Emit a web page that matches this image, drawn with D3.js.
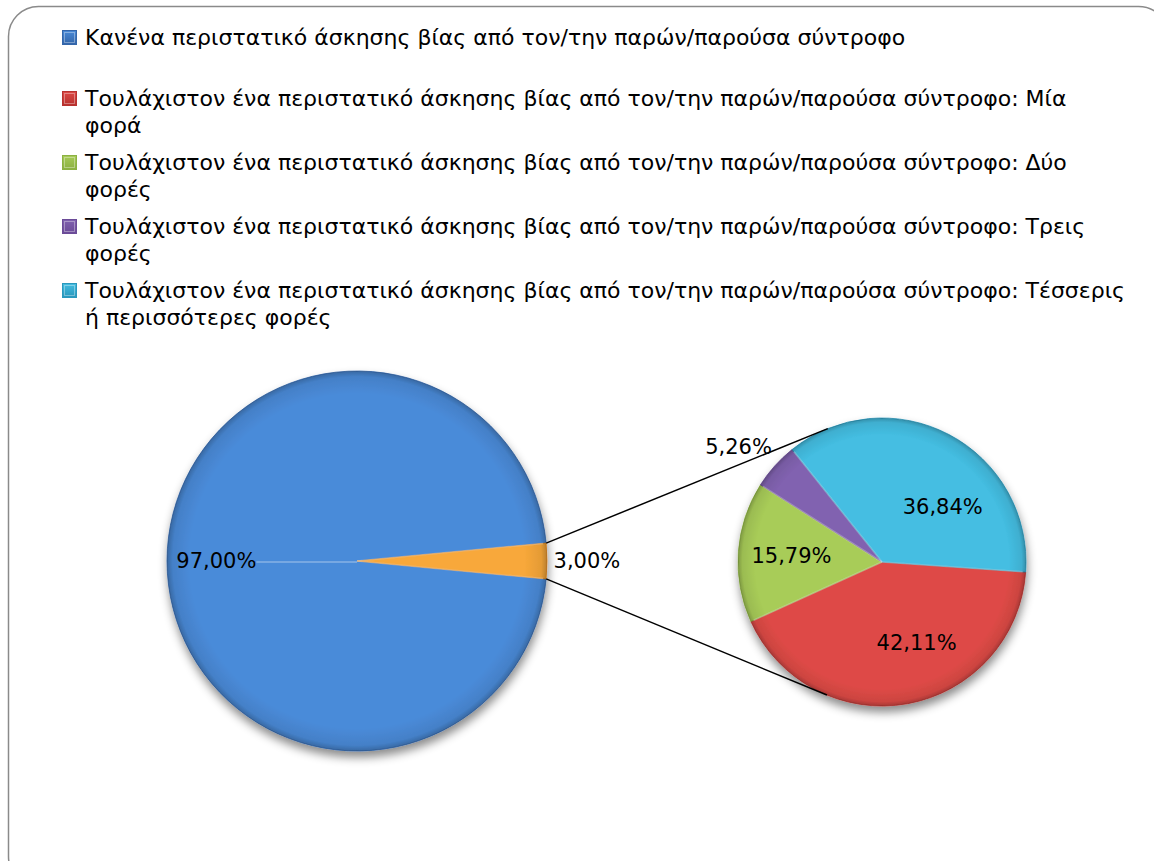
<!DOCTYPE html>
<html>
<head>
<meta charset="utf-8">
<script src="https://cdn.jsdelivr.net/npm/d3@7"></script>
<style>
  html, body { margin: 0; padding: 0; background: #fff; }
  svg { display: block; }
  text { font-family: "DejaVu Sans", "Open Sans", sans-serif; fill: #000; }
</style>
</head>
<body>
<svg id="chart" width="1154" height="861"></svg>
<script>
// ---------- DATA ----------
const mainCategories = [
  "Κανένα περιστατικό άσκησης βίας από τον/την παρών/παρούσα σύντροφο",
  "Τουλάχιστον ένα περιστατικό άσκησης βίας από τον/την παρών/παρούσα σύντροφο"
];
const mainValues = [97.00, 3.00];
const mainLabels = ["97,00%", "3,00%"];

const subCategories = [
  "Τουλάχιστον ένα περιστατικό άσκησης βίας από τον/την παρών/παρούσα σύντροφο: Μία φορά",
  "Τουλάχιστον ένα περιστατικό άσκησης βίας από τον/την παρών/παρούσα σύντροφο: Δύο φορές",
  "Τουλάχιστον ένα περιστατικό άσκησης βίας από τον/την παρών/παρούσα σύντροφο: Τρεις φορές",
  "Τουλάχιστον ένα περιστατικό άσκησης βίας από τον/την παρών/παρούσα σύντροφο: Τέσσερις ή περισσότερες φορές"
];
const subValues = [42.11, 15.79, 5.26, 36.84];
const subLabels = ["42,11%", "15,79%", "5,26%", "36,84%"];

const legendLabels = [mainCategories[0]].concat(subCategories);
// number of trailing words that wrap onto a second legend line
const legendWrapWords = [0, 1, 1, 1, 3];

// ---------- STYLE ----------
const mainColors = [["#4a8bd9", "#3466aa"], ["#f8a83a", "#e2861c"]];
const subColors = [["#de4a46", "#b8322f"], ["#a8cc58", "#8cb142"], ["#8162b0", "#6b4b98"], ["#44bee2", "#2a98bd"]];
const legendColors = [mainColors[0]].concat(subColors);
const fsLegend = 22;
const fsLabel = 21;

const svg = d3.select("#chart");
const defs = svg.append("defs");

// frame
svg.append("rect")
  .attr("x", 8.5).attr("y", 6.5).attr("width", 1160).attr("height", 880)
  .attr("rx", 30).attr("ry", 30)
  .attr("fill", "#fff").attr("stroke", "#8a8a8a").attr("stroke-width", 1.5);

// shadow filter
const f = defs.append("filter").attr("id", "shadow")
  .attr("x", "-20%").attr("y", "-20%").attr("width", "140%").attr("height", "140%");
f.append("feDropShadow").attr("dx", 1).attr("dy", 6).attr("stdDeviation", 5)
  .attr("flood-color", "#000").attr("flood-opacity", 0.45);

function makeGrad(id, c, y0, y1) {
  const g = defs.append("linearGradient").attr("id", id)
    .attr("gradientUnits", "userSpaceOnUse")
    .attr("x1", 0).attr("x2", 0).attr("y1", y0).attr("y2", y1);
  g.append("stop").attr("offset", "0%").attr("stop-color", c[0]);
  g.append("stop").attr("offset", "100%").attr("stop-color", c[1]);
}

// ---------- LAYOUT ----------
const mainC = { x: 357, y: 561, r: 190 };
const subC = { x: 882, y: 562, r: 144 };
const deg = Math.PI / 180;

// main pie: small slice centred on the right (90deg)
const mainHalf = (mainValues[1] / d3.sum(mainValues)) * Math.PI;
const mainPie = d3.pie().sort(null).value(d => d)
  .startAngle(Math.PI / 2 + mainHalf).endAngle(Math.PI / 2 + mainHalf + 2 * Math.PI);
const mainArcs = mainPie(mainValues);
const mainArc = d3.arc().innerRadius(0).outerRadius(mainC.r);

const subStart = 94 * deg;
const subPie = d3.pie().sort(null).value(d => d)
  .startAngle(subStart).endAngle(subStart + 2 * Math.PI);
const subArcs = subPie(subValues);
const subArc = d3.arc().innerRadius(0).outerRadius(subC.r);

mainColors.forEach((c, i) => makeGrad("mg" + i, c, mainC.y - mainC.r, mainC.y + mainC.r));
subColors.forEach((c, i) => makeGrad("sg" + i, c, subC.y - subC.r, subC.y + subC.r));

// rim gradient (bevel look)
const rg = defs.append("radialGradient").attr("id", "rim")
  .attr("cx", "50%").attr("cy", "50%").attr("r", "50%");
rg.append("stop").attr("offset", "88%").attr("stop-color", "#000").attr("stop-opacity", 0);
rg.append("stop").attr("offset", "97%").attr("stop-color", "#000").attr("stop-opacity", 0.08);
rg.append("stop").attr("offset", "100%").attr("stop-color", "#000").attr("stop-opacity", 0.25);

function drawPie(arcs, arcGen, c, gradPrefix, colors) {
  const g = svg.append("g").attr("filter", "url(#shadow)");
  g.selectAll("path").data(arcs).join("path")
    .attr("d", arcGen)
    .attr("transform", `translate(${c.x},${c.y})`)
    .attr("fill", (d, i) => `url(#${gradPrefix}${i})`)
    .attr("stroke", (d, i) => colors[i][1]).attr("stroke-width", 0.8);
  g.append("circle").attr("cx", c.x).attr("cy", c.y).attr("r", c.r).attr("fill", "url(#rim)");
  g.selectAll("line.ridge").data(arcs).join("line")
    .attr("class", "ridge")
    .attr("x1", c.x).attr("y1", c.y)
    .attr("x2", d => c.x + Math.sin(d.startAngle) * (c.r - 3))
    .attr("y2", d => c.y - Math.cos(d.startAngle) * (c.r - 3))
    .attr("stroke", "#fff").attr("stroke-opacity", 0.3).attr("stroke-width", 1.5);
  return g;
}

// ---------- PIES ----------
const gMain = drawPie(mainArcs, mainArc, mainC, "mg", mainColors);
// bevel seam seen on the large slice (opposite the small slice)
gMain.append("line")
  .attr("x1", mainC.x).attr("y1", mainC.y + 1)
  .attr("x2", mainC.x - mainC.r * 0.53).attr("y2", mainC.y + 1)
  .attr("stroke", "#fff").attr("stroke-opacity", 0.25).attr("stroke-width", 2);
drawPie(subArcs, subArc, subC, "sg", subColors);

// ---------- CONNECTOR LINES (tangents) ----------
const small = mainArcs[1];
[small.startAngle, small.endAngle].forEach((a, k) => {
  const px = mainC.x + Math.sin(a) * mainC.r;
  const py = mainC.y - Math.cos(a) * mainC.r;
  const dx = px - subC.x, dy = py - subC.y;
  const d = Math.hypot(dx, dy);
  const base = Math.atan2(dy, dx);
  const off = Math.acos(subC.r / d);
  const t = k === 0 ? base + off : base - off;
  svg.append("line")
    .attr("x1", px).attr("y1", py)
    .attr("x2", subC.x + Math.cos(t) * subC.r)
    .attr("y2", subC.y + Math.sin(t) * subC.r)
    .attr("stroke", "#000").attr("stroke-width", 1.5);
});

// ---------- LABELS ----------
const mainLabelR = [0.74, 1.21];
svg.selectAll("text.mlab").data(mainArcs).join("text")
  .attr("class", "mlab")
  .attr("x", (d, i) => mainC.x + Math.sin((d.startAngle + d.endAngle) / 2) * mainC.r * mainLabelR[i])
  .attr("y", (d, i) => mainC.y - Math.cos((d.startAngle + d.endAngle) / 2) * mainC.r * mainLabelR[i])
  .attr("dy", "0.35em").attr("text-anchor", "middle")
  .attr("font-size", fsLabel).text((d, i) => mainLabels[i]);

// best-fit style placement: radius factor and angular shift (deg) per label
const subLabelR = [0.61, 0.63, 1.28, 0.57];
const subLabelShift = [-13, 0, -3, 20];
svg.selectAll("text.slab").data(subArcs).join("text")
  .attr("class", "slab")
  .attr("x", (d, i) => subC.x + Math.sin((d.startAngle + d.endAngle) / 2 + subLabelShift[i] * deg) * subC.r * subLabelR[i])
  .attr("y", (d, i) => subC.y - Math.cos((d.startAngle + d.endAngle) / 2 + subLabelShift[i] * deg) * subC.r * subLabelR[i])
  .attr("dy", "0.35em").attr("text-anchor", "middle")
  .attr("font-size", fsLabel).text((d, i) => subLabels[i]);

// ---------- LEGEND ----------
const legTop = [45, 106, 170, 234, 298];
const lineH = 27;
legendColors.forEach((c, i) => makeGrad("lg" + i, c, legTop[i] - 15, legTop[i] - 1));
const leg = svg.append("g");
legendLabels.forEach((lab, i) => {
  const words = lab.split(" ");
  const n = legendWrapWords[i];
  const lines = n ? [words.slice(0, words.length - n).join(" "), words.slice(words.length - n).join(" ")] : [lab];
  leg.append("rect")
    .attr("x", 62.5).attr("y", legTop[i] - 14.5).attr("width", 14).attr("height", 14)
    .attr("fill", `url(#lg${i})`).attr("stroke", legendColors[i][1]).attr("stroke-width", 1);
  leg.append("rect")
    .attr("x", 64.5).attr("y", legTop[i] - 12.5).attr("width", 10).attr("height", 10)
    .attr("fill", "none").attr("stroke", "#fff").attr("stroke-opacity", 0.35).attr("stroke-width", 1);
  lines.forEach((ln, j) => {
    leg.append("text").attr("x", 85).attr("y", legTop[i] + j * lineH)
      .attr("font-size", fsLegend).text(ln);
  });
});
</script>
</body>
</html>
